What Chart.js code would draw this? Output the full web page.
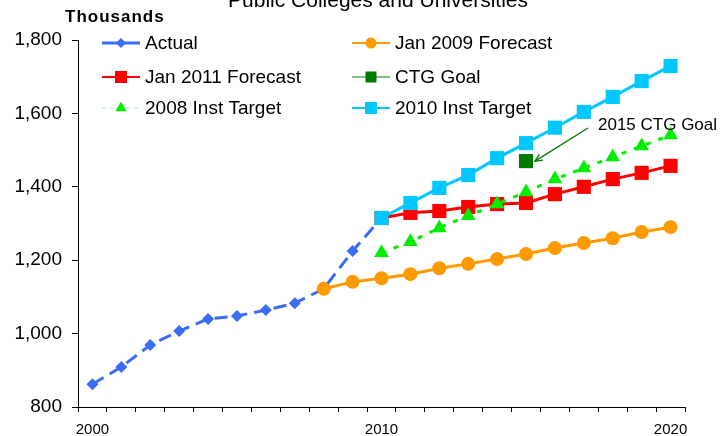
<!DOCTYPE html>
<html>
<head>
<meta charset="utf-8">
<script src="https://cdn.jsdelivr.net/npm/chart.js@4.4.1/dist/chart.umd.min.js"></script>
<style>
  body { margin: 0; background: #fff; }
  #wrap { width: 727px; height: 436px; }
</style>
</head>
<body>
<div id="wrap"><canvas id="chart" width="727" height="436"></canvas></div>
<script>
const chartTitle = "Public Colleges and Universities";
const unitLabel = "Thousands";
const noteText = "2015 CTG Goal";

const years = ['2000','2001','2002','2003','2004','2005','2006','2007','2008','2009','2010',
               '2011','2012','2013','2014','2015','2016','2017','2018','2019','2020'];
const shownYears = ['2000', '2010', '2020'];

const actual   = [862, 909, 969, 1007, 1040, 1048, 1064, 1083, 1122, 1225, 1315,
                  null, null, null, null, null, null, null, null, null, null];
const jan2009  = [null, null, null, null, null, null, null, null, 1122, 1141, 1151,
                  1162, 1178, 1190, 1203, 1217, 1233, 1247, 1260, 1277, 1290];
const jan2011  = [null, null, null, null, null, null, null, null, null, null, 1315,
                  1329, 1334, 1345, 1353, 1356, 1380, 1400, 1421, 1438, 1457];
const ctgGoal  = [null, null, null, null, null, null, null, null, null, null, null,
                  null, null, null, null, 1470, null, null, null, null, null];
const inst2008 = [null, null, null, null, null, null, null, null, null, null, 1220,
                  1250, 1288, 1321, 1353, 1386, 1421, 1451, 1481, 1511, 1541];
const inst2010 = [null, null, null, null, null, null, null, null, null, null, 1315,
                  1356, 1397, 1432, 1478, 1519, 1561, 1604, 1645, 1688, 1729];

const FONT = "'Liberation Sans', Arial, sans-serif";

// where each legend entry sits (same order as datasets)
const legendSpots = [[102, 43], [352, 43], [102, 77], [352, 77], [102, 108], [352, 108]];

function marker(ctx, style, x, y, r, color) {
  ctx.fillStyle = color;
  ctx.beginPath();
  if (style === 'circle') {
    ctx.arc(x, y, r, 0, Math.PI * 2);
  } else if (style === 'rect') {
    ctx.rect(x - r, y - r, 2 * r, 2 * r);
  } else if (style === 'rectRot') {
    ctx.moveTo(x, y - r); ctx.lineTo(x + r, y); ctx.lineTo(x, y + r); ctx.lineTo(x - r, y);
  } else if (style === 'triangle') {
    ctx.moveTo(x, y - r); ctx.lineTo(x + r * 0.87, y + r * 0.5); ctx.lineTo(x - r * 0.87, y + r * 0.5);
  }
  ctx.closePath();
  ctx.fill();
}

const extras = {
  id: 'extras',
  afterDatasetsDraw(chart) {
    const ctx = chart.ctx;
    const xs = chart.scales.x, ys = chart.scales.y;
    ctx.save();
    // note + arrow pointing at the CTG goal
    const tx = xs.getPixelForValue(years.indexOf('2015')) + 9;
    const ty = ys.getPixelForValue(1470);
    ctx.strokeStyle = '#007a00';
    ctx.lineWidth = 1.3;
    ctx.beginPath();
    ctx.moveTo(588, 128);
    ctx.lineTo(tx, ty);
    ctx.stroke();
    const a = Math.atan2(ty - 128, tx - 588);
    ctx.beginPath();
    ctx.moveTo(tx + 8 * Math.cos(a + 2.7), ty + 8 * Math.sin(a + 2.7));
    ctx.lineTo(tx, ty);
    ctx.lineTo(tx + 8 * Math.cos(a - 2.7), ty + 8 * Math.sin(a - 2.7));
    ctx.stroke();
    ctx.fillStyle = '#000';
    ctx.font = `17px ${FONT}`;
    ctx.textAlign = 'left';
    ctx.textBaseline = 'alphabetic';
    ctx.fillText(noteText, 598, 130);
    ctx.restore();
  },
  afterDraw(chart) {
    const ctx = chart.ctx;
    ctx.save();
    ctx.fillStyle = '#000';
    ctx.textBaseline = 'alphabetic';
    ctx.font = `21px ${FONT}`;
    ctx.textAlign = 'center';
    ctx.fillText(chartTitle, 378, 7);
    ctx.font = `bold 17px ${FONT}`;
    ctx.textAlign = 'left';
    ctx.letterSpacing = '1px';
    ctx.fillText(unitLabel, 65, 22);
    ctx.letterSpacing = '0px';

    // legend
    chart.data.datasets.forEach((ds, i) => {
      const [x, y] = legendSpots[i];
      const lg = ds.legendStyle;
      ctx.save();
      ctx.strokeStyle = lg.line;
      ctx.lineWidth = lg.width;
      ctx.setLineDash(lg.dash || []);
      ctx.beginPath();
      ctx.moveTo(x, y);
      ctx.lineTo(x + 38, y);
      ctx.stroke();
      ctx.restore();
      marker(ctx, ds.pointStyle, x + 19, y, lg.r, ds.pointBackgroundColor);
      ctx.fillStyle = '#000';
      ctx.font = `19px ${FONT}`;
      ctx.textBaseline = 'middle';
      ctx.fillText(ds.label, x + 43, y + 1);
    });
    ctx.restore();
  }
};

function series(label, data, color, style, radius, extra) {
  return Object.assign({
    label, data,
    borderColor: color,
    backgroundColor: color,
    pointBackgroundColor: color,
    pointBorderColor: color,
    pointBorderWidth: 0,
    pointStyle: style,
    pointRadius: radius,
    pointHoverRadius: radius,
    borderWidth: 3,
    tension: 0,
    spanGaps: false
  }, extra);
}

new Chart(document.getElementById('chart'), {
  type: 'line',
  data: {
    labels: years,
    datasets: [
      series('Actual', actual, '#3a6cf4', 'rectRot', 6,
        { borderDash: [13, 7], order: 6, legendStyle: { line: '#3a6cf4', width: 3, r: 5 } }),
      series('Jan 2009 Forecast', jan2009, '#ff9900', 'circle', 7,
        { order: 5, legendStyle: { line: '#ff9900', width: 2, r: 5.5 } }),
      series('Jan 2011 Forecast', jan2011, '#ff0000', 'rect', 10,
        { order: 4, legendStyle: { line: '#ff0000', width: 2, r: 6 } }),
      series('CTG Goal', ctgGoal, '#007a00', 'rect', 10,
        { order: 3, borderColor: '#80c080', legendStyle: { line: '#80c080', width: 2, r: 5.5 } }),
      series('2008 Inst Target', inst2008, '#00ee00', 'triangle', 8.5,
        { borderDash: [5, 8], order: 2, legendStyle: { line: '#b0f0b0', width: 1, dash: [4, 4], r: 6.5 } }),
      series('2010 Inst Target', inst2010, '#00c8ff', 'rect', 10,
        { order: 1, legendStyle: { line: '#00c8ff', width: 2, r: 6 } })
    ]
  },
  options: {
    responsive: false,
    animation: false,
    events: [],
    layout: { padding: { top: 40, right: 42, left: 0, bottom: 0 } },
    plugins: {
      legend: { display: false },
      title: { display: false },
      tooltip: { enabled: false }
    },
    scales: {
      x: {
        offset: true,
        grid: { offset: true, drawOnChartArea: false, color: '#000', tickLength: 5, tickWidth: 1 },
        border: { color: '#000', width: 1 },
        ticks: {
          autoSkip: false,
          maxRotation: 0,
          color: '#000',
          padding: 9,
          font: { family: FONT, size: 15 },
          callback: function (v) {
            const y = this.getLabelForValue(v);
            return shownYears.includes(y) ? y : '';
          }
        },
        afterFit: s => { s.height = 29; }
      },
      y: {
        min: 800,
        max: 1800,
        grid: { drawOnChartArea: false, color: '#000', tickLength: 6, tickWidth: 1 },
        border: { color: '#000', width: 1 },
        ticks: {
          stepSize: 200,
          color: '#000',
          padding: 10,
          font: { family: FONT, size: 19 },
          callback: v => v.toLocaleString('en-US')
        },
        afterFit: s => { s.width = 78; }
      }
    }
  },
  plugins: [extras]
});
</script>
</body>
</html>
